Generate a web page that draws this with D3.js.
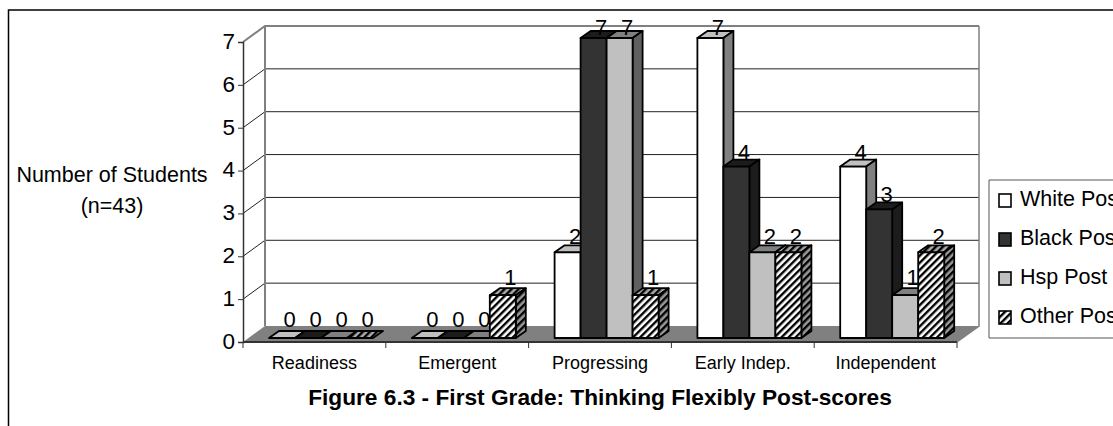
<!DOCTYPE html>
<html><head><meta charset="utf-8">
<script src="https://cdnjs.cloudflare.com/ajax/libs/d3/7.8.5/d3.min.js"></script>
<style>html,body{margin:0;padding:0;background:#fff;overflow:hidden}svg{display:block}text{font-family:"Liberation Sans",Arial,sans-serif;fill:#000}</style>
</head><body><svg id="c" width="1113" height="426"></svg>
<script>
const categories=["Readiness","Emergent","Progressing","Early Indep.","Independent"];
const seriesNames=["White Post","Black Post","Hsp Post","Other Post"];
const whitePost=[0,0,2,7,4];
const blackPost=[0,0,7,4,3];
const hspPost=[0,0,7,2,1];
const otherPost=[0,1,1,2,2];
const yTicks=[0,1,2,3,4,5,6,7];
const titleText="Figure 6.3 - First Grade: Thinking Flexibly Post-scores";
const yTitle=["Number of Students","(n=43)"];

const series=[whitePost,blackPost,hspPost,otherPost];
const svg=d3.select("#c");
const defs=svg.append("defs");
function hatch(id,bg){
  const p=defs.append("pattern").attr("id",id).attr("width",5).attr("height",5)
    .attr("patternUnits","userSpaceOnUse").attr("patternTransform","rotate(45)");
  p.append("rect").attr("width",5).attr("height",5).attr("fill",bg);
  p.append("rect").attr("width",2.4).attr("height",5).attr("fill","#000");
}
hatch("hf","#fff");hatch("ht","#aaa");hatch("hs","#999");
const styles=[
 {front:"#fff",top:"#c0c0c0",side:"#808080"},
 {front:"#333",top:"#1c1c1c",side:"#1c1c1c"},
 {front:"#c0c0c0",top:"#808080",side:"#606060"},
 {front:"url(#hf)",top:"url(#ht)",side:"url(#hs)"}
];
const x=d3.scaleBand().domain(categories).range([243,957]);
const y=d3.scaleLinear().domain([0,7]).range([342,42]);
const barY=d3.scaleLinear().domain([0,7]).range([338,38]);
const labelY=d3.scaleLinear().domain([0,7]).range([327,35]);
const wallDx=22,wallDy=-16,depthX=10,depthY=-7,barW=26,barInset=26;

// outer frame
svg.append("path").attr("d","M1113,10H8.5V426").attr("fill","none").attr("stroke","#000").attr("stroke-width",1.5);

// walls and floor
const [x0,x1]=x.range();
svg.append("path").attr("d",`M${x0},${y(0)}L${x0+wallDx},${y(0)+wallDy}H${x1+wallDx}L${x1},${y(0)}Z`).attr("fill","#808080");
yTicks.forEach(t=>{
  if(t===0) return;
  const yy=y(t);
  svg.append("path").attr("d",`M${x0},${yy}L${x0+wallDx},${yy+wallDy}H${x1+wallDx}`)
    .attr("fill","none").attr("stroke",t===7?"#808080":"#222").attr("stroke-width",t===7?2:1);
});
svg.append("path").attr("d",`M${x0+wallDx},${y(7)+wallDy}V${y(0)+wallDy}`).attr("stroke","#808080").attr("stroke-width",2);
svg.append("path").attr("d",`M${x1+wallDx},${y(7)+wallDy}V${y(0)+wallDy}L${x1},${y(0)}`).attr("fill","none").attr("stroke","#808080").attr("stroke-width",1.5);

// axes
const ay=svg.append("g").attr("transform",`translate(${x0},0)`).call(d3.axisLeft(y).tickValues(yTicks).tickFormat(d3.format("d")).tickSize(5).tickPadding(3));
ay.select(".domain").attr("stroke","#333").attr("stroke-width",1.5);
ay.selectAll("line").attr("stroke","#333");
ay.selectAll("text").attr("font-size",22.5).attr("font-family","Liberation Sans").attr("fill","#000").attr("dy","0.28em");
const ax=svg.append("g").attr("transform",`translate(0,${y(0)})`);
ax.append("path").attr("d",`M${x0},0H${x1}`).attr("stroke","#333").attr("stroke-width",2);
ax.selectAll("line").data([...categories.map(c=>x(c)),x1]).join("line")
  .attr("x1",d=>d).attr("x2",d=>d).attr("y1",0).attr("y2",6).attr("stroke","#333");
ax.selectAll("text").data(categories).join("text")
  .attr("x",d=>x(d)+x.bandwidth()/2).attr("y",27).attr("text-anchor","middle")
  .attr("font-size",18).text(d=>d);

// bars
categories.forEach((c,ci)=>{
  series.forEach((s,si)=>{
    const v=s[ci],st=styles[si];
    const l=x(c)+barInset+si*barW,r=l+barW,t=barY(v),b=barY(0);
    const g=svg.append("g").attr("stroke","#000").attr("stroke-width",1.8).attr("stroke-linejoin","round");
    g.append("path").attr("d",`M${l},${t}L${l+depthX},${t+depthY}H${r+depthX}L${r},${t}Z`).attr("fill",st.top);
    if(v>0){
      g.append("path").attr("d",`M${r},${t}L${r+depthX},${t+depthY}V${b+depthY}L${r},${b}Z`).attr("fill",st.side);
      g.append("rect").attr("x",l).attr("y",t).attr("width",barW).attr("height",b-t).attr("fill",st.front);
    }
  });
});

// value labels
categories.forEach((c,ci)=>{
  series.forEach((s,si)=>{
    svg.append("text").attr("x",x(c)+barInset+si*barW+barW/2+7.5).attr("y",labelY(s[ci]))
      .attr("text-anchor","middle").attr("font-size",22).text(s[ci]);
  });
});

// axis title
yTitle.forEach((t,i)=>svg.append("text").attr("x",112).attr("y",182+i*31)
  .attr("text-anchor","middle").attr("font-size",21.5).text(t));

// chart title
svg.append("text").attr("x",600).attr("y",405).attr("text-anchor","middle").attr("font-size",22.7).attr("font-weight","bold")
  .text(titleText);

// legend
svg.append("path").attr("d","M1113,180H989V338H1113").attr("fill","#fff").attr("stroke","#555").attr("stroke-width",1);
const rowY=d3.scalePoint().domain(seriesNames).range([200,317]);
seriesNames.forEach((n,i)=>{
  svg.append("rect").attr("x",999).attr("y",rowY(n)-6).attr("width",12).attr("height",13)
    .attr("fill",styles[i].front).attr("stroke","#000").attr("stroke-width",1.6);
  svg.append("text").attr("x",1020).attr("y",rowY(n)+6).attr("font-size",21.5).text(n);
});
</script></body></html>
